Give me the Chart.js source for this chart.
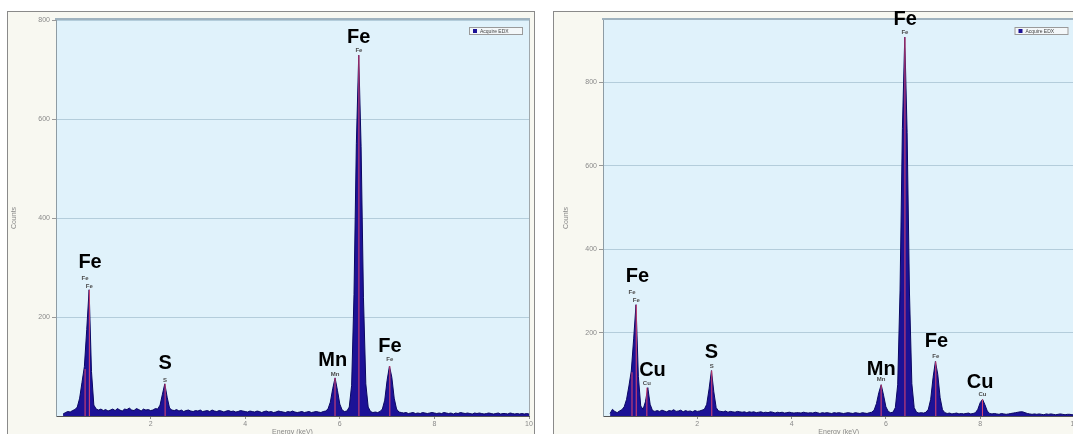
<!DOCTYPE html>
<html>
<head>
<meta charset="utf-8">
<script src="https://cdn.jsdelivr.net/npm/chart.js@4.4.1/dist/chart.umd.min.js"></script>
<style>
html, body { margin: 0; padding: 0; background: #fff; overflow: hidden; width: 1073px; height: 434px; }
#left { position: absolute; left: 0; top: 0; }
#right { position: absolute; left: 540px; top: 0; }
</style>
</head>
<body>
<canvas id="left" width="540" height="445"></canvas>
<canvas id="right" width="545" height="445"></canvas>
<script>
// energy grid (keV), shared by both spectra
var energy = [
  0.15,0.2,0.25,0.3,0.35,0.4,0.45,0.5,0.55,0.6,0.65,0.7,0.75,0.8,0.85,0.9,0.95,1.0,1.05,1.1,
  1.15,1.2,1.25,1.3,1.35,1.4,1.45,1.5,1.55,1.6,1.65,1.7,1.75,1.8,1.85,1.9,1.95,2.0,2.05,2.1,
  2.15,2.2,2.25,2.3,2.35,2.4,2.45,2.5,2.55,2.6,2.65,2.7,2.75,2.8,2.85,2.9,2.95,3.0,3.05,3.1,
  3.15,3.2,3.25,3.3,3.35,3.4,3.45,3.5,3.55,3.6,3.65,3.7,3.75,3.8,3.85,3.9,3.95,4.0,4.05,4.1,
  4.15,4.2,4.25,4.3,4.35,4.4,4.45,4.5,4.55,4.6,4.65,4.7,4.75,4.8,4.85,4.9,4.95,5.0,5.05,5.1,
  5.15,5.2,5.25,5.3,5.35,5.4,5.45,5.5,5.55,5.6,5.65,5.7,5.75,5.8,5.85,5.9,5.95,6.0,6.05,6.1,
  6.15,6.2,6.25,6.3,6.35,6.4,6.45,6.5,6.55,6.6,6.65,6.7,6.75,6.8,6.85,6.9,6.95,7.0,7.05,7.1,
  7.15,7.2,7.25,7.3,7.35,7.4,7.45,7.5,7.55,7.6,7.65,7.7,7.75,7.8,7.85,7.9,7.95,8.0,8.05,8.1,
  8.15,8.2,8.25,8.3,8.35,8.4,8.45,8.5,8.55,8.6,8.65,8.7,8.75,8.8,8.85,8.9,8.95,9.0,9.05,9.1,
  9.15,9.2,9.25,9.3,9.35,9.4,9.45,9.5,9.55,9.6,9.65,9.7,9.75,9.8,9.85,9.9,9.95,10.0
];

// left spectrum counts
var countsA = [
  4,7,9,8,11,13,18,36,68,100,175,255,90,22,14,12,14,11,13,10,
  12,14,11,15,12,10,14,13,16,12,11,15,13,10,14,12,13,11,12,15,
  14,22,44,65,38,16,12,11,13,10,12,9,11,12,10,9,11,10,12,9,
  10,11,9,12,10,9,11,10,8,10,11,9,10,8,9,11,10,9,8,10,
  9,8,10,9,7,9,10,8,9,7,8,10,9,8,7,9,8,10,8,7,
  8,9,7,8,9,7,8,9,8,7,9,10,14,28,55,77,52,24,12,9,
  10,18,62,245,550,729,545,240,65,18,9,7,8,7,9,14,32,72,101,78,
  36,14,8,7,6,7,5,6,7,5,6,5,7,6,5,6,7,6,5,6,
  5,7,6,5,6,4,6,5,7,6,5,6,5,4,6,5,6,5,4,5,
  6,5,4,5,6,4,5,5,4,6,5,4,5,4,5,4,5,4
];

// right spectrum counts
var countsB = [
  6,16,11,8,12,15,22,40,72,108,185,267,95,24,16,34,68,28,13,11,
  13,11,14,12,10,13,12,15,11,12,14,10,13,11,12,10,13,11,12,14,
  16,28,65,109,58,20,12,11,10,12,9,11,10,9,11,10,9,10,8,10,
  9,10,8,9,10,8,9,8,10,9,7,9,8,9,7,8,9,8,7,8,
  8,7,9,8,7,8,7,9,8,6,8,7,8,7,6,8,7,8,7,6,
  7,8,7,6,8,7,6,8,7,6,8,9,14,30,56,75,50,22,11,8,
  9,20,75,300,690,909,680,295,78,20,9,7,8,7,9,16,40,92,131,100,
  44,15,8,6,7,5,6,7,5,6,5,6,7,5,6,8,16,32,40,27,
  12,6,5,6,5,4,6,5,4,5,6,7,8,9,10,10,8,6,5,4,
  5,4,5,4,3,5,4,5,4,3,4,5,4,3,4,4,3,4
];

// element lines: red marker + small label
var lineTextA = ['Fe', 'Fe', 'S', 'Mn', 'Fe', 'Fe'];
var lineEnergyA = [0.615, 0.705, 2.307, 5.899, 6.404, 7.058];
var lineTopA = [95, 255, 65, 77, 729, 101];
var lineLabelA = [275, 259, 69, 81, 735, 111];

var lineTextB = ['Fe', 'Fe', 'Cu', 'S', 'Mn', 'Fe', 'Fe', 'Cu'];
var lineEnergyB = [0.615, 0.705, 0.930, 2.307, 5.899, 6.404, 7.058, 8.048];
var lineTopB = [105, 267, 68, 109, 75, 909, 131, 40];
var lineLabelB = [293, 274, 75, 114, 83, 916, 138, 47];

// large element labels
var peakTextA = ['Fe', 'S', 'Mn', 'Fe', 'Fe'];
var peakEnergyA = [0.72, 2.31, 5.85, 6.40, 7.06];
var peakLabelA = [299, 95, 101, 754, 129];

var peakTextB = ['Fe', 'Cu', 'S', 'Mn', 'Fe', 'Fe', 'Cu'];
var peakEnergyB = [0.73, 1.05, 2.30, 5.90, 6.41, 7.07, 8.00];
var peakLabelB = [322, 95, 140, 99, 938, 166, 68];

var xTicks = [2, 4, 6, 8, 10];
var yTicks = [200, 400, 600, 800];

var FONT = '"Liberation Sans", Arial, sans-serif';

var panelPlugin = {
    id: 'panel',
    beforeDraw: function (chart, args, opts) {
        var ctx = chart.ctx, a = chart.chartArea;
        ctx.save();
        ctx.fillStyle = '#fff';
        ctx.fillRect(0, 0, chart.width, chart.height);
        // outer frame
        ctx.fillStyle = '#f8f8f1';
        ctx.fillRect(opts.frameLeft, 11, opts.frameRight - opts.frameLeft, chart.height);
        ctx.strokeStyle = '#8a8a8a';
        ctx.lineWidth = 1;
        ctx.strokeRect(opts.frameLeft + 0.5, 11.5, opts.frameRight - opts.frameLeft - 1, chart.height);
        // plot background
        ctx.fillStyle = '#e0f2fb';
        ctx.fillRect(a.left, a.top, a.right - a.left, a.bottom - a.top);
        ctx.restore();
    },
    afterDraw: function (chart, args, opts) {
        var ctx = chart.ctx, a = chart.chartArea;
        var xs = chart.scales.x, ys = chart.scales.y;
        var i;
        ctx.save();
        // plot border
        ctx.strokeStyle = '#9fb2be';
        ctx.lineWidth = 2;
        ctx.beginPath();
        ctx.moveTo(a.left - 1, a.top - 1);
        ctx.lineTo(a.right + 1, a.top - 1);
        ctx.stroke();
        ctx.lineWidth = 1;
        ctx.strokeStyle = '#a0a8ac';
        ctx.beginPath();
        ctx.moveTo(a.right + 0.5, a.top);
        ctx.lineTo(a.right + 0.5, a.bottom);
        ctx.stroke();

        // legend box
        var bw = 54, bh = 8;
        var bx = a.right - 6 - bw, by = a.top + 7;
        ctx.fillStyle = '#f3f7f9';
        ctx.fillRect(bx, by, bw, bh);
        ctx.strokeStyle = '#9a9a9a';
        ctx.strokeRect(bx + 0.5, by + 0.5, bw - 1, bh - 1);
        ctx.fillStyle = '#1c1296';
        ctx.fillRect(bx + 4, by + 2, 4, 4);
        ctx.fillStyle = '#444';
        ctx.font = '5px ' + FONT;
        ctx.textBaseline = 'middle';
        ctx.textAlign = 'left';
        ctx.fillText('Acquire EDX', bx + 11, by + bh / 2 + 0.5);

        // small line labels
        ctx.textAlign = 'center';
        ctx.textBaseline = 'alphabetic';
        ctx.font = 'bold 6px ' + FONT;
        ctx.fillStyle = '#4a4a4a';
        for (i = 0; i < opts.lineText.length; i++) {
            ctx.fillText(opts.lineText[i], xs.getPixelForValue(opts.lineEnergy[i]), ys.getPixelForValue(opts.lineLabel[i]));
        }
        // large labels
        ctx.font = 'bold 20px ' + FONT;
        ctx.fillStyle = '#000';
        for (i = 0; i < opts.peakText.length; i++) {
            ctx.fillText(opts.peakText[i], xs.getPixelForValue(opts.peakEnergy[i]), ys.getPixelForValue(opts.peakLabel[i]));
        }
        ctx.restore();
    }
};

function makeChart(id, counts, lineText, lineEnergy, lineTop, lineLabel, peakText, peakEnergy, peakLabel, yMax, pad, frame, yWidth) {
    var spectrum = [];
    for (var i = 0; i < energy.length; i++) {
        spectrum.push({ x: energy[i], y: counts[i] });
    }
    var markers = [];
    for (var j = 0; j < lineEnergy.length; j++) {
        markers.push({ x: lineEnergy[j], y: 0 });
        markers.push({ x: lineEnergy[j], y: lineTop[j] });
        markers.push({ x: lineEnergy[j], y: null });
    }

    var config = {
        type: 'line',
        data: {
            datasets: [
                {
                    label: 'lines',
                    data: markers,
                    borderColor: '#e2456e',
                    borderWidth: 1,
                    pointRadius: 0,
                    fill: false,
                    spanGaps: false,
                    order: 0
                },
                {
                    label: 'Acquire EDX',
                    data: spectrum,
                    borderColor: '#0b0862',
                    backgroundColor: '#1c1296',
                    borderWidth: 1,
                    pointRadius: 0,
                    tension: 0,
                    fill: 'origin',
                    order: 1
                }
            ]
        },
        options: {
            responsive: false,
            animation: false,
            layout: { padding: { left: pad[0], right: pad[1], top: 20, bottom: 0 } },
            plugins: {
                legend: { display: false },
                tooltip: { enabled: false },
                panel: {
                    frameLeft: frame[0],
                    frameRight: frame[1],
                    lineText: lineText,
                    lineEnergy: lineEnergy,
                    lineLabel: lineLabel,
                    peakText: peakText,
                    peakEnergy: peakEnergy,
                    peakLabel: peakLabel
                }
            },
            scales: {
                x: {
                    type: 'linear',
                    min: 0,
                    max: 10,
                    afterFit: function (s) { s.height = 29; },
                    afterBuildTicks: function (s) {
                        s.ticks = xTicks.map(function (v) { return { value: v }; });
                    },
                    ticks: { font: { size: 7, family: FONT }, color: '#8a8a8a', padding: 1, maxRotation: 0, autoSkip: false },
                    grid: { drawOnChartArea: false, tickLength: 3, color: '#8a8a8a' },
                    border: { color: '#555' },
                    title: { display: true, text: 'Energy (keV)', font: { size: 7, family: FONT }, color: '#8a8a8a', padding: { top: 0, bottom: 9 } }
                },
                y: {
                    min: 0,
                    max: yMax,
                    afterFit: function (s) { s.width = yWidth; },
                    afterBuildTicks: function (s) {
                        s.ticks = yTicks.map(function (v) { return { value: v }; });
                    },
                    ticks: { font: { size: 7, family: FONT }, color: '#8a8a8a', padding: 2 },
                    grid: { color: '#b4cddb', tickLength: 4, tickColor: '#999' },
                    border: { color: '#8e9ca4' },
                    title: { display: true, text: 'Counts', font: { size: 7, family: FONT }, color: '#8a8a8a', padding: { top: frame[0] - 4, bottom: 0 } }
                }
            }
        },
        plugins: [panelPlugin]
    };
    return new Chart(document.getElementById(id).getContext('2d'), config);
}

window.chartA = makeChart('left', countsA, lineTextA, lineEnergyA, lineTopA, lineLabelA,
    peakTextA, peakEnergyA, peakLabelA, 800, [7, 11], [7, 535], 49);
window.chartB = makeChart('right', countsB, lineTextB, lineEnergyB, lineTopB, lineLabelB,
    peakTextB, peakEnergyB, peakLabelB, 950, [13, 10.5], [13, 600], 50);
</script>
</body>
</html>
